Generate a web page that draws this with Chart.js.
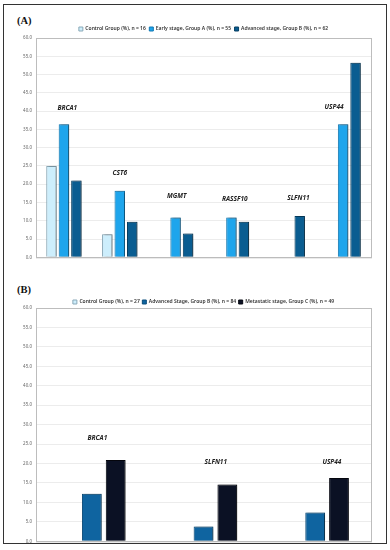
<!DOCTYPE html>
<html>
<head>
<meta charset="utf-8">
<script src="https://cdn.jsdelivr.net/npm/chart.js@4.4.1/dist/chart.umd.min.js"></script>
<style>
  body { margin: 0; background: #fff; width: 390px; height: 550px; position: relative; overflow: hidden; }
  .frame { position: absolute; left: 3px; top: 4px; width: 382px; height: 538px; border: 1.5px solid #333; }
  .tag { position: absolute; left: 17px; font: bold 10.5px "Liberation Serif", serif; color: #111; }
  .panel { position: absolute; left: 0; width: 390px; }
</style>
</head>
<body>
<div class="frame"></div>
<div class="tag" style="top:15px">(A)</div>
<div class="tag" style="top:284px">(B)</div>
<div class="panel" style="top:23px;height:241px"><canvas id="chartA"></canvas></div>
<div class="panel" style="top:297px;height:251px"><canvas id="chartB"></canvas></div>
<script>
// 패널 A
const genesA = ['BRCA1', 'CST6', 'MGMT', 'RASSF10', 'SLFN11', 'USP44'];
const controlA = [25.0, 6.3, 0, 0, 0, 0];
const earlyA = [36.4, 18.2, 10.9, 10.9, 0, 36.4];
const advancedA = [21.0, 9.7, 6.5, 9.7, 11.3, 53.2];

// 패널 B
const genesB = ['BRCA1', 'SLFN11', 'USP44'];
const controlB = [0, 0, 0];
const advancedB = [12.2, 3.8, 7.4];
const metastaticB = [20.9, 14.6, 16.3];

const yTicks = [0, 5, 10, 15, 20, 25, 30, 35, 40, 45, 50, 55, 60];

// gene name annotations (value height, shift in categories)
const labelAtA = [40.7, 23.0, 16.8, 15.9, 16.2, 41.0];
const labelShiftA = [0.06, 0, 0.02, 0.06, 0.2, -0.16];
const labelAtB = [26.5, 20.4, 20.4];
const labelShiftB = [0.05, 0.11, 0.15];

const barShadow = {
    id: 'barShadow',
    beforeDatasetsDraw(chart) {
        const c = chart.ctx;
        c.save();
        c.shadowColor = 'rgba(0,0,0,0.45)';
        c.shadowBlur = 2;
        c.shadowOffsetX = 1.5;
    },
    afterDatasetsDraw(chart) {
        chart.ctx.restore();
    }
};

const plotBox = {
    id: 'plotBox',
    afterDraw(chart) {
        const { ctx, chartArea: a } = chart;
        ctx.save();
        ctx.strokeStyle = '#bdbdbd';
        ctx.lineWidth = 1;
        ctx.strokeRect(a.left + 0.5, a.top + 0.5, a.right - a.left, a.bottom - a.top);
        ctx.restore();
    }
};

// 범례를 플롯 영역 위에 가운데 정렬
const legendOverPlot = {
    id: 'legendOverPlot',
    afterLayout(chart) {
        chart.legend.left = chart.chartArea.left;
        chart.legend.right = chart.chartArea.right;
    }
};

function geneLabels(at, shift) {
    return {
        id: 'geneLabels',
        afterDatasetsDraw(chart) {
            const { ctx, scales: { x, y } } = chart;
            ctx.save();
            ctx.font = 'italic bold 6.5px "Noto Sans"';
            ctx.fillStyle = '#222';
            ctx.textAlign = 'center';
            ctx.textBaseline = 'middle';
            chart.data.labels.forEach((g, i) => {
                ctx.fillText(g, x.getPixelForValue(i + shift[i]), y.getPixelForValue(at[i]));
            });
            ctx.restore();
        }
    };
}

function makeOptions(catPct, barPct, legendPad, legendH) {
    return {
        responsive: true,
        maintainAspectRatio: false,
        animation: false,
        layout: { padding: { left: 0, right: 19, top: 0, bottom: 5 } },
        datasets: { bar: { categoryPercentage: catPct, barPercentage: barPct } },
        plugins: {
            tooltip: { enabled: false },
            legend: {
                position: 'top',
                maxHeight: legendH,
                labels: {
                    boxWidth: 4,
                    boxHeight: 4,
                    padding: legendPad,
                    color: '#333',
                    font: { family: 'Noto Sans', size: 5, weight: '600' }
                }
            }
        },
        scales: {
            x: {
                afterFit: s => { s.height = 0; },
                ticks: { display: false },
                grid: { display: false },
                border: { display: true, color: '#bdbdbd' }
            },
            y: {
                min: 0,
                max: 60,
                afterBuildTicks: s => { s.ticks = yTicks.map(v => ({ value: v })); },
                afterFit: s => { s.width = 36; },
                ticks: {
                    color: '#666',
                    padding: 4,
                    font: { family: 'Noto Sans', size: 4.5 },
                    callback: v => Number(v).toFixed(1)
                },
                grid: { color: '#ececec', drawTicks: false },
                border: { display: true, color: '#bdbdbd' }
            }
        }
    };
}

new Chart(document.getElementById('chartA'), {
    type: 'bar',
    data: {
        labels: genesA,
        datasets: [
            { label: 'Control Group (%), n = 16', data: controlA, backgroundColor: '#cdeefc', borderColor: '#8aa9b8', borderWidth: 1 },
            { label: 'Early stage, Group A (%), n = 55', data: earlyA, backgroundColor: '#1ea5ec', borderColor: '#1279b3', borderWidth: 1 },
            { label: 'Advanced stage, Group B (%), n = 62', data: advancedA, backgroundColor: '#0a5d91', borderColor: '#063f63', borderWidth: 1 }
        ]
    },
    options: makeOptions(0.67, 0.84, 3.5, 15),
    plugins: [legendOverPlot, barShadow, geneLabels(labelAtA, labelShiftA), plotBox]
});

new Chart(document.getElementById('chartB'), {
    type: 'bar',
    data: {
        labels: genesB,
        datasets: [
            { label: 'Control Group (%), n = 27', data: controlB, backgroundColor: '#cdeefc', borderColor: '#8aa9b8', borderWidth: 1 },
            { label: 'Advanced Stage, Group B (%), n = 84', data: advancedB, backgroundColor: '#0f64a0', borderColor: '#0b4c7a', borderWidth: 1 },
            { label: 'Metastatic stage, Group C (%), n = 49', data: metastaticB, backgroundColor: '#0b1124', borderColor: '#05070f', borderWidth: 1 }
        ]
    },
    options: makeOptions(0.64, 0.83, 2.5, 11),
    plugins: [legendOverPlot, barShadow, geneLabels(labelAtB, labelShiftB), plotBox]
});
</script>
</body>
</html>
